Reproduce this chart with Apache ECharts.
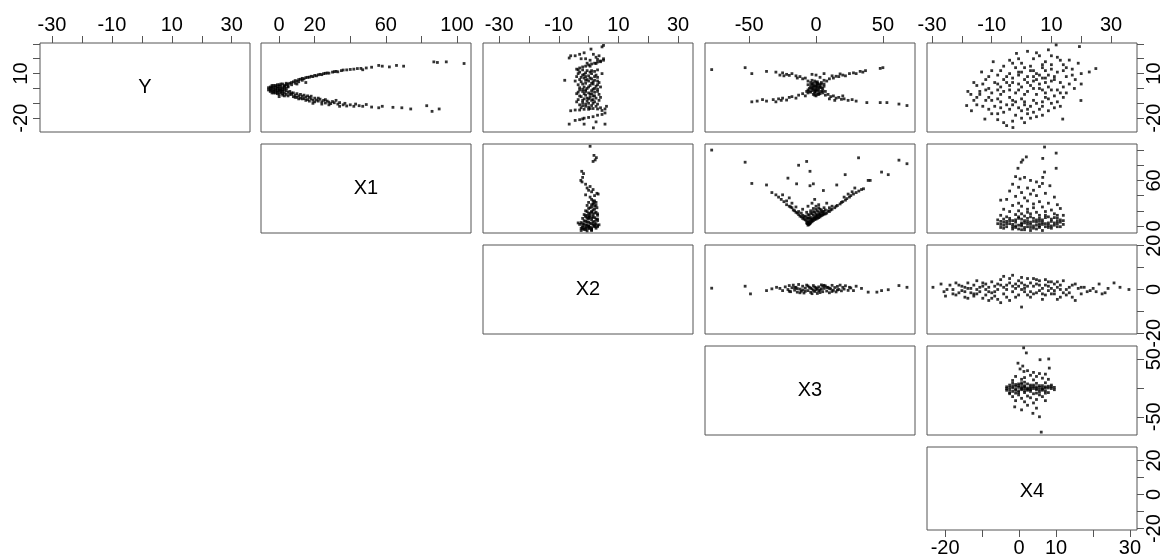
<!DOCTYPE html>
<html>
<head>
    <meta http-equiv="Content-Type" content="text/html; charset=utf-8" />
    <title>pairs</title>
    <script src="https://cdn.jsdelivr.net/npm/echarts@6/dist/echarts.min.js"></script>
    <style>
        body{ margin: 0; background: #fff; }
        #main{ width: 1164px; height: 558px; }
    </style>
</head>
<body>
<div id="main"></div>
<script>
    // variable names on the diagonal
    var varNames = ['Y', 'X1', 'X2', 'X3', 'X4'];

    // axis ranges as drawn (columns = x, rows = y)
    var colRange = [[-34, 36.1], [-10.2, 107.9], [-35.4, 35], [-83, 74], [-31.7, 38.7]];
    var rowRange = [[-29.3, 30.6], [-9.3, 108], [-20.3, 20.3], [-81.6, 72.8], [-20.8, 27.9]];
    var colTicks = [[-30, -20, -10, 0, 10, 20, 30], [0, 20, 40, 60, 80, 100], [-30, -20, -10, 0, 10, 20, 30], [-50, 0, 50], [-30, -20, -10, 0, 10, 20, 30]];
    var colLabels = [[-30, -10, 10, 30], [0, 20, 60, 100], [-30, -10, 10, 30], [-50, 0, 50], [-30, -10, 10, 30]];
    var rowTicks = [[-20, -10, 0, 10, 20, 30], [0, 20, 40, 60, 80, 100], [-20, -10, 0, 10, 20], [-50, 0, 50], [-20, -10, 0, 10, 20]];
    var rowLabels = [[-20, 10], [0, 60], [-20, 0, 20], [-50, 50], [-20, 0, 20]];
    // bottom axis under the X4 box
    var bottomRange = [-24.9, 31.9];
    var bottomTicks = [-20, -10, 0, 10, 20, 30];
    var bottomLabels = [-20, 0, 10, 30];

    // points: [column variable, row variable]
    var y_x1 = [[-6,-1],[-5,-2],[-5,0],[-4,-3],[-4,1],[-3,-1],[-3,-2],[-3,0.5],[-2,-3],[-2,2],[-2,-0.5],[-1,-1.5],[-1,1],[-1,-3.5],[0,0],[0,-2],[0,2.5],[0,-4],[1,-1],[1,1.5],[1,-3],[2,0.5],[2,-2],[2,3],[2,-4.5],[3,-1],[3,1.5],[3,-3],[4,2.5],[4,-4],[4,0],[5,3],[5,-2.5],[5,-5],[6,3.5],[6,-4],[-4,-1.5],[-2,1],[-1,-2.5],[1,0],[3,-5],[0,-5.5],[-3,2],[2,-3.5],
        [-5,-1],[-4,0],[-3,-3],[-2,-1.5],[-1,0],[0,-1],[1,-2],[2,-1],[3,0.5],[4,-1.5],[5,1],[6,-2],[7,-3],[8,-3],[9,-6],[11,-7],[13,-7],[15,-8],[17,-8.5],[12,-4],[16,-5],[20,-9],[22,-6.5],[26,-7.5],[7,2.5],[9,3.5],[11,4.5],[13,5.5],[5,1.5],[3,2],[-5,1],[-4,2],[-6,0.5],[1,3],[4,3.5],[0,1.5],[-1,2.5],[19,-10],[24,-10.5],[28,-11],[32,-8],[34,-12],[15,4],[10,3],
        [7,4],[8,4.5],[9,5.3],[10,5],[11,6],[12,6.2],[13,6.8],[14,6.5],[15,7.3],[16,7.5],[17,7.6],[18,8.2],[19,8],[20,8.8],[21,8.5],[22,9.2],[23,9.5],[24,9.3],[25,10],[26,10.2],[27,10.4],[28,10.3],[30,11],[31,11.3],[32,11.5],[33,11.2],[35,12],[36,12.4],[38,12.5],[40,12.8],[42,13],[44,13.4],[46,13.5],[47,12.6],[49,13.8],[52,14.3],[56,15.5],[58,15],[62,14.5],[66,15.5],[70,15],[87,17.9],[89,17.5],[94,17.9],[104,16.8],
        [7,-4],[8,-5.5],[9,-4.5],[10,-6],[11,-5],[12,-6.5],[13,-5.2],[14,-6.8],[15,-5.8],[16,-7.5],[17,-6],[18,-7],[19,-8],[20,-6.5],[21,-7.8],[22,-8.5],[23,-7.2],[24,-9],[25,-8],[26,-9.8],[27,-8.5],[28,-9.2],[29,-10.2],[30,-8.8],[31,-9.6],[33,-10.5],[34,-9.5],[36,-11],[37,-10],[38,-11.8],[40,-11],[42,-12],[43,-10.5],[45,-11.6],[47,-12],[49,-10.8],[52,-12.5],[56,-13],[58,-12],[64,-12.7],[69,-13],[74,-13.8],[83,-11.6],[86,-15.4],[90,-13.8],[10,-3.5],[14,-4.5],[18,-5.2]];

    var y_x2 = [[5,29],[4.5,28],[0.8,26.5],[-1.5,24],[-3,23],[-6,22],[-6.5,20.5],[-4.5,22],[-2.5,20],[1.6,23],[3.5,22],[-1,20],[0.5,19],[5,20],[4,18],[-0.5,17],[2.5,21],[3,19.5],
        [-4,13],[-3,13.8],[-2,14.5],[-1,15],[0,15.8],[1,16.5],[2,17],[3,17.8],[4,18.5],[5,19],[-3.5,12.5],[0.5,15],[2.5,16.8],
        [-3,11],[-1,10.5],[1,10],[2.5,9],[-2,9],[0,8.5],[-4,8],[3,7.5],[-1.5,7],[1,6.5],[-3,6],[2,5.5],[0,5],[-2.5,4.5],[3.5,4],[-1,3.5],[1.5,3],[-3.5,2.5],[0.5,2],[2.5,1.5],[-1.5,1],[-0.5,0],[3,-0.5],[-3,-1],[1,-1.5],[-2,-2],[2,-2.5],[0,-3],[-4,-3.5],[3.5,-4],[-1,-4.5],[1.5,-5],[-2.5,-5.5],[0.5,-6],[2.5,-6.5],[-1.5,-7],[-3.5,-7.5],[1,-8],[-0.5,-8.5],[2,-9],[-2,-9.5],[0,-10],[3,-10.5],[-3,-11],[1,-11.5],[-1,-12],[-2.5,-13],[0.5,-13.5],[-0.5,6],[0.5,-4],[-1,8],[2,11.5],[-2,-0.5],[1.5,4.5],[-0.5,-6.5],[4,1],[-4.5,5],[1,12],[-1,-2],[2,0],
        [-3.5,10],[0.5,11],[-1.5,9.5],[2,8],[-2.5,7.5],[0.5,7],[3,5],[-1,5.5],[1,3.5],[-2,3],[3,2.5],[0,1],[-3,0.5],[1.5,-0.5],[-1,-1],[3,-2],[-3.5,-2.5],[1,-3.5],[-1.5,-3.5],[2,-5],[-3,-5],[0,-7],[1.5,-7.5],[-2,-8],[3.5,-8],[-1,-10.5],[1.5,-10],[-2,-11.5],[2.5,-12],[0,-12.5],[-0.5,12],[3,12.5],[-2,12.5],[4.5,10],[-4,-9],[4,-6],
        [-8,5.5],
        [-6,-15],[-4.5,-14.5],[-3,-14.5],[-1.5,-14],[0,-14],[1.5,-13.5],[3,-13.8],[4,-13],[6,-12],[5.5,-13.8],[4.5,-14.8],
        [-4.5,-21.5],[-3,-21],[-1.5,-20],[0,-19.5],[1.5,-19],[3,-18],[4.5,-17.5],[5.5,-16.5],[-2,-20.5],
        [-6.5,-24],[-1.5,-24],[1.6,-26.5],[5.5,-24],[2.5,-22.5]];

    var y_x3 = [[-78,12.7],[-53,14],[-48,10],[-37,11.5],[-48,-9],[-44,-8.5],[-40,-7.5],[62,-10.5],[68,-11.5],[53,-9.5],[48,-9.5],[38,-9.5],[48,13.5],[50,14],
        [-30,11],[-27,9],[-25,10.5],[-22,9.5],[-20,8.8],[-18,10],[-15,8.5],[-12,8],[-10,6.5],[-8,7],[-6,5],[-4,4],[-14,7],[-24,8.5],
        [4,4],[6,5.5],[8,5],[10,6.5],[13,7],[15,8.2],[17,8],[20,9],[22,8.5],[25,10],[28,10.5],[30,10],[33,11.5],[35,11],[37,12],[12,8.5],[18,9.8],[3,7.5],[0,9],[-3,9.5],[6,10],
        [-37,-8.5],[-32,-7.5],[-28,-7],[-25,-6.5],[-22,-7.8],[-20,-6],[-18,-5.5],[-15,-6.5],[-13,-4.5],[-10,-3.5],[-8,-5],[-6,-3],[-30,-9],[-26,-8],
        [5,-3],[7,-4.5],[9,-4],[11,-5.5],[13,-5],[15,-6.5],[17,-6],[19,-7.3],[21,-7],[24,-8],[27,-7.5],[30,-8.5],[10,-7],[14,-8],[20,-5],
        [-5,0],[-4,2],[-3,-1.5],[-2,1],[-1,-3],[0,0.5],[1,2.5],[2,-1],[3,1],[4,-2],[5,0],[-3,3],[0,-2],[2,3],[-1,1.5],[1,-4],[-2,-4],[3,-3.5],[-4,-2.5],[0,4],[2,0.5],[-2,-0.5],[1,-1],[-1,-1],[0,-5],[-6,-1],[6,1.5],[-1,5],[1,4.5],[-3,5.5],[4,3],
        [-2,2],[2,-2.5],[-1,-2],[1,1],[0,-1],[3,2],[-3,0],[4,0.5],[-4,0.5],[1,3.5],[-2,3.5],[2,-4],[-1,-4.5],[0,2],[-5,-2],[5,-1.5],[6,3],[-6,2.5],[7,-2],[-7,-2]];

    var y_x4 = [[11.6,29.3],[19.4,28.2],[24.9,13.4],[22.7,11.1],[-1.7,23.6],[-9.5,18],[-13.4,11.1],[-18.4,-11.5],[-16.8,-15],[-12.3,-20.6],[-2.9,-26.3],[13.8,-20.6],[19.9,-8.1],[17.7,0],[16,19.1],
        [2,25],[6,22],[9,26],[4,20],[-4,19],[0,17],[8,18],[12,21],[14,16],[-6,15],[-2,14],[3,15],[7,14],[10,13],[-10,12],[-8,9],[-4,10],[0,11],[5,10],[9,9],[12,11],[15,8],[18,6],[20,10],[-12,6],[-9,4],[-6,6],[-3,7],[1,6],[4,5],[7,7],[10,5],[13,4],[16,3],[-15,2],[-11,0],[-7,1],[-4,2],[0,1],[3,2],[6,0],[9,1],[12,-1],[15,-3],[-14,-4],[-10,-3],[-6,-2],[-2,-3],[2,-2],[5,-4],[8,-3],[11,-5],[14,-6],[-16,-8],[-12,-8],[-8,-7],[-4,-6],[0,-7],[4,-8],[7,-9],[10,-10],[-13,-12],[-9,-12],[-5,-11],[-1,-13],[3,-12],[6,-14],[9,-15],[-10,-17],[-6,-16],[-2,-18],[2,-17],[5,-19],[-8,-21],[-3,-22],[1,-23],[-5,-25],[-1,3],[2,8],[-2,-9],[6,3],[1,-4],[-5,4],[8,-6],[4,12],[-7,-4],[11,8],[0,-15],[-11,-14],[7,16],[17,13],[-14,-2],[3,-20],[13,-12],[-17,-4],
        [-1,20],[5,24],[10,22],[13,19],[-7,12],[-1,11],[3,12],[8,12],[14,12],[-11,8],[-5,8],[-1,9],[4,8],[8,7],[11,6],[17,9],[-13,3],[-8,3],[-3,4],[2,4],[5,6],[8,4],[14,1],[-12,-1],[-8,-1],[-4,-1],[-1,-1],[4,0],[7,-1],[10,-1],[13,-3],[-15,-6],[-11,-6],[-7,-9],[-3,-8],[1,-9],[5,-10],[9,-7],[12,-9],[-15,-11],[-7,-13],[-3,-11],[1,-11],[7,-12],[11,-13],[-8,-17],[-4,-14],[0,-20],[4,-16],[7,-18],[-6,-23],[2,-14],[-10,-8],[6,9],[1,14],[-3,17],[10,16],[15,14],[19,17],[20,3],[-18,-2],[-16,4]];

    var x1_x2 = [[0.5,105],[1.8,93],[2.6,90],[2.2,87],[1.5,85],[-2.3,72],[-1.7,69],[-2.6,60],[-2.2,58],[-2,64],[-1,55],[-0.5,50],[0,47],[0.5,52],[1,45],[1.5,48],[2.8,43],[3.2,42],[2,40],[-1,41],[0.5,38],
        [1,35],[2,33],[0,31],[1.5,29],[-0.5,27],[2.5,27],[1,25],[0,23],[2,22],[-1,20],[1,19],[2.5,18],[0,17],[-1.5,15],[1.5,15],[3,14],[0.5,13],[-1,12],[2,11],[-2,10],[0,9.5],[1,8],[3,7],[-1.5,7],[-0.5,5.5],[1.5,5],[-2.5,4.5],[0.5,3.5],[2.5,3],[-1.5,2.5],[-3,2],[-0.5,1.5],[1.5,1],[3,0.5],[-2,0],[0,-0.5],[2,-1],[-1,-1.5],[1,-2.5],[-2.5,-3],[0,-3.5],[2.5,-3],[-1.5,-4.5],[1,-5],[-2.5,-6],[-0.5,-6.5],[-3.5,4],[0.5,-1.5],[-1,-3],[2,2],[1,10.5],[3,9],[1.8,30],[2.8,24],[-0.2,14],[0.2,11],[-2,-2],[3.5,1.5],
        [0,5],[1,3],[-1,1],[2,0],[0,-2],[-1,-5],[1,-4],[2,6],[-0.5,10],[1.5,12],[0.5,16],[2,17],[-0.5,19],[1.5,21],[0.5,24],[2,26],[1,28],[2.5,31],[1.5,33],[-2,3],[-1,6],[2.5,9],[0,12],[-1,14],[3,16],[1,18],[-2,-4],[3,-1],[0,0],[1,-6]];

    var x1_x3 = [[-78,100],[-53,84],[-48,56],[-37,54],[-21,63],[-13,80],[-7,85],[-4.5,72],[-14.5,55.5],[-4.5,53],[-2,55.5],[5.5,46.7],[15.5,54],[21.8,67.6],[31.8,89.8],[39,60],[40.5,60],[49,71],[54,67.6],[62,86.7],[68,82],[35.5,49],
        [-10,10],[-11,12],[-12,13],[-13,15],[-14,17],[-15,18],[-16,20],[-17,21],[-18,24],[-19,25],[-20,26],[-22,28],[-24,32],[-26,35],[-28,38],[-30,41],[-33,44],[-25,41],[-20,37],[-18,30],[-22,33],[-15,25],
        [8,17],[10,19],[11,21],[12,22],[14,24],[15,26],[16,27],[18,29],[19,31],[20,32],[22,34],[23,36],[25,38],[26,40],[28,42],[30,44],[32,46],[34,48],[27,45],[24,42],[29,50],[21,38],
        [-6,1],[-5.5,2],[-5,2.5],[-4.5,3],[-6.5,3],[-7,4],[-4,4.5],[-3,5.5],[-2,7],[-1,8.5],[0,9],[1,10],[2,11],[3,12],[4,13.5],[5,14.5],[6,15.5],[7,16],[-5,6],[-4,8],[-3,9],[-2,10],[-1,12],[0,13],[1,14],[2,15],[3,16],[4,18],[5,19],[-7,7],[-8,8],[-9,9],[-6,10],[-8,13],[-5,14],[-3,16],[-1,18],[1,20],[3,22],[6,24],[-7,18],[-4,20],[-2,23],[0,26],[-10,14],[-6,26],[2,28],[-3,30],[8,30],[-1,35],
        [-5,4],[-6,5],[-3,7],[-1,10],[1,12],[3,14],[5,16],[-4,11],[-2,14],[0,16],[2,18],[4,21],[-6,15],[-4,17],[-2,19],[0,22],[2,24],[-7,11],[-9,12],[6,19],[7,21],[9,20],[10,24],[12,26],[-11,17],[-13,19],[-10,22],[-5,10]];

    var x1_x4 = [[7.7,104],[11.6,96],[7.1,89],[1.6,91],[0.4,87],[-0.1,84],[-1.2,76],[11.6,76],[7.7,71],[7.1,64],[-2,65],[-0.5,62],[1,64],[3,60],[5,58],[7,56],[9.5,53],[-3,55],[-1,51],[2,50],[4,47],[6,52],[-4,46],[0,44],[3,42],[5,40],[8,43],[11,38],[-2,39],[1,37],[-5,35],[-7,34],[2,33],[6,32],[9,30],[12,28],[-1,30],[4,29],[-3,27],[0,26],[7,25],[13,23],[10,21],[-6,22],[-4,19],[-1,20],[2,22],[5,18],[8,19],[11,16],[14,14],[-7,14],[-5,12],[-2,15],[1,13],[3,16],[6,14],[9,12],[12,10],[-8,8],[-6,5],[-3,7],[0,9],[2,6],[4,10],[7,8],[10,6],[13,5],[-7,2],[-4,3],[-1,1],[1,4],[3,2],[5,5],[8,3],[11,1],[14,2],[-5,-1],[-2,-2],[0,0],[2,-1],[4,-3],[6,0],[9,-2],[12,-1],[-3,-4],[1,-5],[5,-4],[7,-6],[10,-3],[-8,3],[-6,9],[3,12],[6,7],[8,11],[-1,10],[2,18],[4,24],[0,16],[-2,5],[12,14],[-4,10],
        [-6,1],[-3,-1],[0,2],[3,-2],[6,3],[9,1],[12,3],[-5,6],[-2,8],[1,7],[4,6],[7,5],[10,9],[13,8],[-7,-2],[-1,-4],[2,3],[5,1],[8,-1],[11,4],
        [-5,3],[-2,0],[1,-2],[4,0],[7,2],[10,0],[13,-1],[-6,-3],[-3,2],[0,4],[3,5],[6,-2],[9,4],[12,6],[-4,7],[-1,12],[2,10],[5,8],[8,14],[11,11],[14,7],[-7,6],[0,-5],[3,-6],[6,10]];

    var x2_x3 = [[-78,0.6],[-53,1.5],[-49,-2],[-37,-0.5],[-33,0.3],[-29.5,1],[39,-1.2],[45.5,-1.2],[49,-0.5],[54,-0.1],[62,1.8],[68,1],[34,0.5],[30,1.5],[28,-0.5],[25,1],
        [-27,0.5],[-25,-0.5],[-23,1.2],[-21,0],[-20,1.8],[-19,-1],[-18,0.8],[-17,2],[-16,-0.3],[-15,1],[-14,-1.2],[-13,2.3],[-12,0.2],[-11,-0.8],[-10,1.5],[-9,-1.6],[-8,0.6],[-7,2],[-6,-0.5],[-5,1],[-4,-1.3],[-3,0.3],[-2,1.8],[-1,-0.9],[0,0.8],[1,-1.8],[2,1.2],[3,-0.2],[4,2.1],[5,-1],[6,0.5],[7,1.6],[8,-0.7],[9,1],[10,-1.5],[11,0.3],[12,1.9],[13,-0.4],[14,0.9],[15,-1.1],[16,1.4],[17,0],[18,2],[19,-0.6],[20,1],[21,0.2],[22,1.7],[24,-0.4],[26,0.7],[-10,-0.2],[-6,1.6],[-2,-0.4],[2,-0.6],[6,1.9],[10,0.5],[-14,0.4],[0,-0.2],[4,0.3],[-8,-0.8],[8,0.9],[-4,0.6],[-1,1.1],[1,0.4],[3,-1.4],[-3,-1.9],[5,1.6],[12,-0.9],[16,-0.2],[-12,-1.5],[-16,0.9],[-20,-0.8]];

    var x2_x4 = [[-29.7,1],[-27,2.5],[-26,-1],[-25.5,-3],[-24,2],[-23,0],[-22,3],[-21,-1.5],[-20,1.5],[-19,-3.5],[-18,3],[-17,0.5],[-16,-2],[-15,4],[-14,1],[-13,-4],[-12,2.5],[-11,-1],[-10,3.5],[-9,-3],[-8,0],[-7,4.5],[-6,-2],[-5,2],[-4,-5],[-3,6.5],[-2,0.5],[-1,-2.5],[0,3],[1,-1],[2,5],[3,-3.5],[4,1.5],[5,-1.5],[6,4],[7,-4.5],[8,2],[9,-0.5],[10,3.5],[11,-2],[12,1],[13,-3.5],[14,4],[15,0],[16,-1.5],[17,2],[18,-5],[19,0.5],[20,-2],[21,1],[22,-1],[24,0.5],[25,-1],[26,2.5],[28,-1.5],[29,0.5],[31,3],[33,1],[36,0],[27,-2],
        [-22,-2.5],[-20,-0.5],[-18,0.5],[-16,2],[-14,-1],[-12,0],[-10,-1.5],[-8,2.5],[-6,1],[-4,3],[-2,-3.5],[0,0],[2,1.5],[4,-2],[6,-0.5],[8,-2.5],[10,0.5],[12,-4.5],[14,-1.5],[-11,-5],[-7,-6],[-5,-3.5],[5,4.5],[1,2],[-3,1.5],[3,3],[7,0.5],[-13,3],[-9,1.5],[9,3.5],[-1,4],[11,2.5],[-15,-2],[13,0],[0,-8],[-6,6],[-19,-1],
        [-25,0],[-23,-2],[-21,2],[-19,1],[-17,-1.5],[-15,0],[-13,1.5],[-11,1],[-9,-1],[-7,2],[-5,0],[-3,-1],[-1,1.5],[1,0.5],[3,-1],[5,2.5],[7,-2],[9,1.5],[11,-0.5],[13,2],[15,-2.5],[17,-3.5],[-10,-4],[-8,-4.5],[-4,5],[0,5.5],[4,5],[8,4.5],[-2,2.5],[2,-2.5],[6,2],[10,-2],[-12,-2.5],[-16,-3],[-18,-4],[12,3.5],[16,1],[18,2.5],[20,1],[23,-0.5]];

    var x3_x4 = [[0.7,69.6],[1.6,60.8],[6.2,49],[9.1,50.3],[-1.2,43],[0.4,38],[-0.5,33],[0.8,28.6],[9.3,34.5],[3.8,-44],[6,-50],[6.6,-76.6],[-2.3,-32.8],
        [2,30],[4,27],[6,25],[3,22],[5,20],[8,24],[1,18],[-2,20],[7,17],[0,15],[4,14],[9,15],[-3,13],
        [-5,2],[-4,-3],[-4,5],[-3,0],[-3,-6],[-2,3],[-2,-2],[-1,7],[-1,-5],[0,1],[0,-3],[0,9],[1,-8],[1,4],[2,0],[2,-4],[2,7],[3,2],[3,-6],[4,-1],[4,5],[5,-3],[5,8],[6,1],[6,-7],[7,4],[7,-2],[8,0],[8,-5],[9,3],[9,-8],[10,-1],[10,5],[11,1],[-5,-1],[-3,8],[-1,1],[1,-1],[3,-1],[5,2],[7,0],[-2,-9],[4,-10],[1,10],[-4,-8],[8,9],[6,-12],[2,-14],[-1,-12],[3,-17],[5,-20],[0,-18],[7,-15],[-3,-15],[1,-24],[4,-26],[-2,-22],[8,-22],[2,-30],[5,-35],[0,-38],
        [-4,1],[-3,3],[-2,-4],[-1,4],[0,-1],[1,2],[2,-2],[3,5],[4,2],[5,-1],[6,4],[7,-4],[8,2],[9,0],[10,2],[-5,-4],[-2,6],[0,6],[3,-3],[6,-3],[1,-5],[-1,-8],[5,-9],[8,-9],[11,-3],[-4,-10]];

    // which points go in which upper panel, keyed "row-col"
    var panelData = {
        '0-1': y_x1, '0-2': y_x2, '0-3': y_x3, '0-4': y_x4,
        '1-2': x1_x2, '1-3': x1_x3, '1-4': x1_x4,
        '2-3': x2_x3, '2-4': x2_x4,
        '3-4': x3_x4
    };

    var colLeft = [40, 261, 483, 705, 927];
    var rowTop = [43, 144, 245, 346, 447];
    var W = 210, H = 89;
    var FONT = "'Liberation Sans', Arial, Helvetica, sans-serif";
    var LINE = '#555';

    function makeAxis(gi, pos, range, ticks, labels, show, vertical, margin) {
        return {
            type: 'value', gridIndex: gi, position: pos,
            min: range[0], max: range[1], show: show,
            axisLine: { show: false, onZero: false },
            splitLine: { show: false },
            axisTick: { show: true, inside: false, length: 7, customValues: ticks,
                lineStyle: { color: LINE, width: 1 } },
            axisLabel: { show: true, customValues: labels, margin: margin,
                rotate: vertical ? 90 : 0, fontSize: 20, color: '#000', fontFamily: FONT }
        };
    }

    var grids = [], xAxes = [], yAxes = [], series = [], texts = [];
    var gi = 0;
    for (var r = 0; r < 5; r++) {
        for (var c = r; c < 5; c++) {
            grids.push({ left: colLeft[c], top: rowTop[r], width: W, height: H,
                show: true, borderColor: LINE, borderWidth: 1 });

            if (r === 4 && c === 4) {
                xAxes.push(makeAxis(gi, 'bottom', bottomRange, bottomTicks, bottomLabels, true, false, 8));
            } else {
                xAxes.push(makeAxis(gi, 'top', colRange[c], colTicks[c], colLabels[c], r === 0, false, 8));
            }
            if (c === 4) {
                yAxes.push(makeAxis(gi, 'right', rowRange[r], rowTicks[r], rowLabels[r], true, true, 7));
            } else {
                yAxes.push(makeAxis(gi, 'left', rowRange[r], rowTicks[r], rowLabels[r], r === 0 && c === 0, true, 9));
            }

            if (r === c) {
                texts.push({ type: 'text', x: colLeft[c] + W / 2, y: rowTop[r] + H / 2,
                    style: { text: varNames[r], fontSize: 20, fill: '#000', fontFamily: FONT,
                        align: 'center', verticalAlign: 'middle' } });
            } else {
                series.push({ type: 'scatter', xAxisIndex: gi, yAxisIndex: gi,
                    data: panelData[r + '-' + c], symbol: 'rect', symbolSize: 2.8,
                    itemStyle: { color: '#000' }, silent: true });
            }
            gi++;
        }
    }

    var chart = echarts.init(document.getElementById('main'));
    chart.setOption({
        animation: false,
        backgroundColor: '#fff',
        grid: grids,
        xAxis: xAxes,
        yAxis: yAxes,
        graphic: texts,
        series: series
    });
</script>
</body>
</html>
